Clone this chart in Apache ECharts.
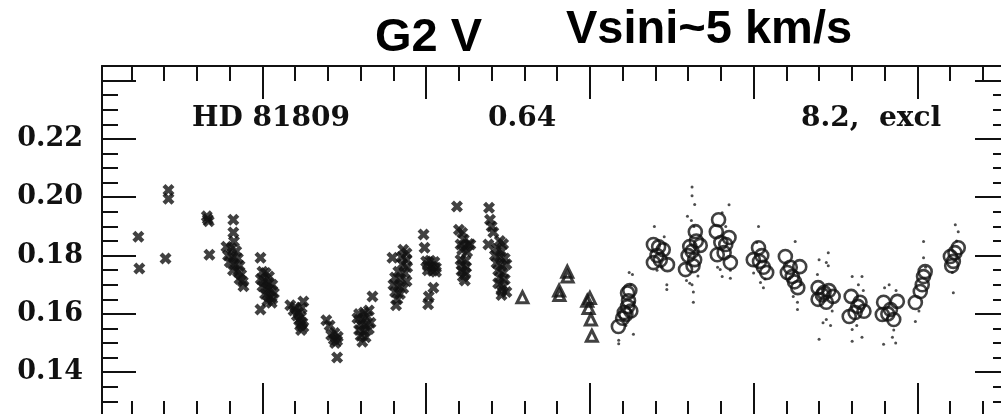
<!DOCTYPE html>
<html>
<head>
<meta charset="utf-8">
<script src="https://cdn.jsdelivr.net/npm/echarts@6/dist/echarts.min.js"></script>
<style>
  html, body { margin: 0; padding: 0; background: #fff; }
  #chart { width: 1001px; height: 414px; }
</style>
</head>
<body>
<div id="chart"></div>
<script>
// HD 81809 chromospheric S-index record, Mount Wilson HK survey
const starName = 'HD 81809';
const colourIndex = '0.64';
const cycleNote = '8.2,  excl';
const spectralType = 'G2 V';
const rotationNote = 'Vsini~5 km/s';

// Axis ranges and tick positions
const yearRange = [1965.1, 1992.8];
const sRange = [0.125, 0.245];
const yearMajorTicks = [1970, 1975, 1980, 1985, 1990];
const yearMinorTicks = [1966, 1967, 1968, 1969, 1970, 1971, 1972, 1973, 1974, 1975, 1976, 1977, 1978, 1979,
  1980, 1981, 1982, 1983, 1984, 1985, 1986, 1987, 1988, 1989, 1990, 1991, 1992];
const sMajorTicks = [0.14, 0.16, 0.18, 0.20, 0.22, 0.24];
const sMinorTicks = [0.125, 0.13, 0.135, 0.14, 0.145, 0.15, 0.155, 0.16, 0.165, 0.17, 0.175, 0.18, 0.185,
  0.19, 0.195, 0.20, 0.205, 0.21, 0.215, 0.22, 0.225, 0.23, 0.235, 0.24, 0.245];
const sTickLabels = [0.14, 0.16, 0.18, 0.20, 0.22];

// Early photometer observations (1966-1977), plotted as crosses
const crossObs = [
  [1966.21, 0.1865], [1966.24, 0.1756],
  [1967.13, 0.2025], [1967.13, 0.1995], [1967.04, 0.1790],
  [1968.30, 0.1935], [1968.33, 0.1925], [1968.36, 0.1918], [1968.38, 0.1803],
  [1969.11, 0.1923], [1969.11, 0.1879], [1969.13, 0.1848], [1968.90, 0.1830], [1969.05, 0.1825],
  [1969.20, 0.1815], [1968.95, 0.1800], [1969.10, 0.1795], [1969.25, 0.1790], [1969.00, 0.1778],
  [1969.15, 0.1770], [1969.30, 0.1765], [1969.10, 0.1750], [1969.25, 0.1745], [1969.35, 0.1735],
  [1969.30, 0.1720], [1969.40, 0.1710], [1969.42, 0.1695],
  [1969.94, 0.1793], [1970.00, 0.1745], [1970.10, 0.1740], [1970.20, 0.1728], [1969.95, 0.1720],
  [1970.05, 0.1712], [1970.18, 0.1705], [1970.30, 0.1700], [1970.00, 0.1695], [1970.12, 0.1688],
  [1970.25, 0.1680], [1970.35, 0.1672], [1970.08, 0.1668], [1970.20, 0.1660], [1970.30, 0.1652],
  [1970.15, 0.1645], [1970.28, 0.1638], [1969.94, 0.1615],
  [1970.85, 0.1630], [1971.00, 0.1622], [1971.25, 0.1643], [1970.95, 0.1612], [1971.10, 0.1605],
  [1971.20, 0.1620], [1971.05, 0.1595], [1971.18, 0.1590], [1971.12, 0.1578], [1971.22, 0.1570],
  [1971.15, 0.1560], [1971.25, 0.1555], [1971.18, 0.1545],
  [1971.95, 0.1578], [1972.05, 0.1560], [1972.20, 0.1535], [1972.10, 0.1528], [1972.30, 0.1522],
  [1972.18, 0.1512], [1972.28, 0.1508], [1972.22, 0.1500], [1972.28, 0.1451],
  [1973.36, 0.1660], [1972.95, 0.1600], [1973.10, 0.1605], [1973.25, 0.1612], [1972.90, 0.1585],
  [1973.05, 0.1580], [1973.20, 0.1590], [1973.00, 0.1565], [1973.15, 0.1560], [1973.30, 0.1570],
  [1972.95, 0.1545], [1973.10, 0.1540], [1973.25, 0.1548], [1973.00, 0.1525], [1973.15, 0.1520],
  [1973.05, 0.1505],
  [1973.97, 0.1793], [1974.30, 0.1820], [1974.40, 0.1808], [1974.25, 0.1795], [1974.40, 0.1785],
  [1974.28, 0.1770], [1974.42, 0.1760], [1974.15, 0.1745], [1974.35, 0.1740], [1974.05, 0.1725],
  [1974.22, 0.1720], [1974.40, 0.1712], [1974.00, 0.1700], [1974.15, 0.1695], [1974.30, 0.1688],
  [1974.05, 0.1675], [1974.20, 0.1668], [1974.12, 0.1650], [1974.08, 0.1630],
  [1974.92, 0.1872], [1974.95, 0.1827], [1975.00, 0.1780], [1975.12, 0.1782], [1975.25, 0.1778],
  [1975.05, 0.1765], [1975.18, 0.1762], [1975.30, 0.1758], [1975.05, 0.1750], [1975.20, 0.1748],
  [1975.30, 0.1745], [1975.22, 0.1690], [1975.08, 0.1660], [1975.06, 0.1633],
  [1975.94, 0.1968], [1976.00, 0.1889], [1976.10, 0.1878], [1976.15, 0.1855], [1976.30, 0.1840],
  [1976.05, 0.1838], [1976.20, 0.1830], [1976.35, 0.1838], [1976.10, 0.1820], [1976.25, 0.1812],
  [1976.05, 0.1785], [1976.20, 0.1782], [1976.10, 0.1768], [1976.22, 0.1760], [1976.08, 0.1748],
  [1976.20, 0.1740], [1976.12, 0.1728], [1976.18, 0.1715],
  [1976.92, 0.1964], [1976.95, 0.1923], [1977.00, 0.1900], [1977.05, 0.1880], [1976.90, 0.1838],
  [1977.25, 0.1850], [1977.35, 0.1840], [1977.15, 0.1825], [1977.30, 0.1815], [1977.10, 0.1800],
  [1977.25, 0.1795], [1977.40, 0.1790], [1977.15, 0.1775], [1977.30, 0.1765], [1977.45, 0.1770],
  [1977.20, 0.1750], [1977.35, 0.1740], [1977.25, 0.1725], [1977.40, 0.1718], [1977.20, 0.1705],
  [1977.35, 0.1695], [1977.30, 0.1680], [1977.45, 0.1675], [1977.30, 0.1665]
];

// Transition-period observations (1977-1980), plotted as triangles
const triangleObs = [
  [1977.94, 0.1657], [1979.06, 0.1680], [1979.07, 0.1665], [1979.31, 0.1745], [1979.32, 0.1728],
  [1980.00, 0.1655], [1979.92, 0.1645], [1979.96, 0.1620], [1980.03, 0.1581], [1980.06, 0.1525]
];

// HKP-2 monthly means (1980 onward), plotted as open circles
const circleObs = [
  [1980.87, 0.1557], [1981.00, 0.1585], [1981.05, 0.1605], [1981.15, 0.1625], [1981.25, 0.1610],
  [1981.18, 0.1645], [1981.15, 0.1672], [1981.22, 0.1680], [1981.10, 0.1598],
  [1981.94, 0.1838], [1982.10, 0.1830], [1982.24, 0.1820], [1982.05, 0.1800], [1981.94, 0.1776],
  [1982.37, 0.1769], [1982.15, 0.1785],
  [1982.92, 0.1752], [1983.00, 0.1800], [1983.05, 0.1831], [1983.22, 0.1882], [1983.37, 0.1835],
  [1983.20, 0.1786], [1983.12, 0.1815], [1983.25, 0.1850], [1983.15, 0.1765],
  [1983.93, 0.1923], [1983.86, 0.1882], [1984.25, 0.1862], [1984.15, 0.1838], [1983.89, 0.1803],
  [1984.29, 0.1776], [1984.00, 0.1845], [1984.10, 0.1810],
  [1985.15, 0.1827], [1984.99, 0.1786], [1985.18, 0.1780], [1985.40, 0.1742], [1985.30, 0.1760],
  [1985.25, 0.1800],
  [1985.97, 0.1797], [1986.41, 0.1762], [1986.03, 0.1742], [1986.18, 0.1728], [1986.35, 0.1690],
  [1986.25, 0.1710], [1986.12, 0.1760],
  [1986.97, 0.1690], [1987.15, 0.1673], [1987.43, 0.1660], [1986.97, 0.1650], [1987.22, 0.1640],
  [1987.10, 0.1665], [1987.30, 0.1680],
  [1987.98, 0.1660], [1987.92, 0.1591], [1988.37, 0.1609], [1988.18, 0.1626], [1988.10, 0.1605],
  [1988.25, 0.1640],
  [1988.93, 0.1598], [1989.39, 0.1643], [1989.18, 0.1615], [1989.28, 0.1581], [1988.97, 0.1640],
  [1989.10, 0.1600],
  [1989.94, 0.1639], [1990.09, 0.1677], [1990.19, 0.1728], [1990.24, 0.1745], [1990.15, 0.1700],
  [1991.01, 0.1797], [1991.25, 0.1827], [1991.10, 0.1780], [1991.15, 0.1810], [1991.05, 0.1765]
];

// Individual nightly measurements, plotted as small dots
const nightlyObs = [
  [1980.88, 0.1510], [1980.88, 0.1498], [1981.33, 0.1530], [1981.20, 0.1742], [1981.30, 0.1735],
  [1981.10, 0.1560], [1981.25, 0.1700], [1981.05, 0.1580], [1981.35, 0.1640],
  [1981.97, 0.1900], [1982.27, 0.1865], [1982.35, 0.1684], [1982.35, 0.1700], [1982.05, 0.1750],
  [1982.20, 0.1760], [1982.30, 0.1840], [1981.90, 0.1815],
  [1983.12, 0.2035], [1983.12, 0.2005], [1983.20, 0.1975], [1982.98, 0.1935], [1983.10, 0.1920],
  [1983.18, 0.1900], [1983.12, 0.1700], [1983.16, 0.1675], [1983.16, 0.1640], [1982.95, 0.1715],
  [1983.05, 0.1705], [1983.30, 0.1730],
  [1984.25, 0.1974], [1984.04, 0.1947], [1983.98, 0.1752], [1984.04, 0.1728], [1984.29, 0.1750],
  [1984.29, 0.1722], [1984.15, 0.1900], [1983.90, 0.1760],
  [1985.15, 0.1900], [1985.21, 0.1708], [1985.30, 0.1690], [1985.00, 0.1740], [1985.35, 0.1720],
  [1985.10, 0.1845],
  [1986.27, 0.1848], [1986.34, 0.1615], [1986.21, 0.1660], [1986.34, 0.1640], [1986.00, 0.1770],
  [1986.45, 0.1700], [1986.10, 0.1720],
  [1987.00, 0.1786], [1987.22, 0.1776], [1987.28, 0.1765], [1987.28, 0.1810], [1987.00, 0.1513],
  [1987.12, 0.1570], [1987.22, 0.1581], [1987.35, 0.1560], [1986.95, 0.1735], [1987.40, 0.1610],
  [1988.01, 0.1728], [1988.31, 0.1728], [1988.01, 0.1506], [1988.31, 0.1520], [1988.01, 0.1547],
  [1988.20, 0.1700], [1988.35, 0.1680], [1988.15, 0.1560],
  [1989.14, 0.1700], [1988.97, 0.1496], [1989.24, 0.1520], [1989.34, 0.1500], [1989.35, 0.1680],
  [1989.00, 0.1690], [1989.28, 0.1545],
  [1990.19, 0.1848], [1989.94, 0.1574], [1990.19, 0.1793], [1990.05, 0.1610], [1990.25, 0.1760],
  [1991.16, 0.1906], [1991.25, 0.1882], [1991.07, 0.1742], [1991.10, 0.1673], [1991.20, 0.1850]
];

const ink = '#111';
const serif = '"DejaVu Serif", "Liberation Serif", serif';
const sans = '"Liberation Sans", Arial, sans-serif';
const crossPath = 'path://M0,2.5L2.5,0L5,2.5L7.5,0L10,2.5L7.5,5L10,7.5L7.5,10L5,7.5L2.5,10L0,7.5L2.5,5Z';

function xAxisDef(position, ticks, len, showLine) {
  return {
    type: 'value', position: position, min: yearRange[0], max: yearRange[1],
    axisLine: { show: showLine, lineStyle: { color: ink, width: 2 } },
    axisTick: { show: true, inside: true, length: len, customValues: ticks,
      lineStyle: { color: ink, width: 2 } },
    axisLabel: { show: false },
    splitLine: { show: false }
  };
}
function yAxisDef(position, ticks, len, showLine, labels) {
  return {
    type: 'value', position: position, min: sRange[0], max: sRange[1],
    axisLine: { show: showLine, lineStyle: { color: ink, width: 2 } },
    axisTick: { show: true, inside: true, length: len, customValues: ticks,
      lineStyle: { color: ink, width: 2 } },
    axisLabel: labels ? {
      show: true, customValues: labels, margin: 19,
      formatter: function (v) { return v.toFixed(2); },
      color: ink, fontFamily: serif, fontSize: 27, fontWeight: 'bold'
    } : { show: false },
    splitLine: { show: false }
  };
}

const chart = echarts.init(document.getElementById('chart'), null, { renderer: 'canvas' });
chart.setOption({
  backgroundColor: '#fff',
  animation: false,
  grid: { left: 102, top: 66, right: -8, bottom: -2, outerBoundsMode: 'none', containLabel: false },
  xAxis: [
    xAxisDef('bottom', yearMinorTicks, 15, true),
    xAxisDef('bottom', yearMajorTicks, 33, false),
    xAxisDef('top', yearMinorTicks, 15, true),
    xAxisDef('top', yearMajorTicks, 33, false)
  ],
  yAxis: [
    yAxisDef('left', sMinorTicks, 16, true, null),
    yAxisDef('left', sMajorTicks, 34, false, sTickLabels),
    yAxisDef('right', sMinorTicks, 16, true, null),
    yAxisDef('right', sMajorTicks, 34, false, null)
  ],
  graphic: [
    { type: 'text', left: 375, top: 15, style: { text: spectralType, fill: '#000',
      font: 'bold 47px ' + sans } },
    { type: 'text', left: 566, top: 7, style: { text: rotationNote, fill: '#000',
      font: 'bold 47px ' + sans } },
    { type: 'text', left: 192, top: 105, style: { text: starName, fill: ink,
      font: 'bold 28px ' + serif } },
    { type: 'text', left: 488, top: 105, style: { text: colourIndex, fill: ink,
      font: 'bold 28px ' + serif } },
    { type: 'text', left: 801, top: 105, style: { text: cycleNote, fill: ink,
      font: 'bold 28px ' + serif } }
  ],
  series: [
    {
      type: 'scatter', name: 'nightly', xAxisIndex: 0, yAxisIndex: 0, data: nightlyObs,
      symbol: 'circle', symbolSize: 3, itemStyle: { color: '#222' }, silent: true
    },
    {
      type: 'scatter', name: 'crosses', xAxisIndex: 0, yAxisIndex: 0, data: crossObs,
      symbol: crossPath, symbolSize: 12, itemStyle: { color: ink }, silent: true
    },
    {
      type: 'scatter', name: 'triangles', xAxisIndex: 0, yAxisIndex: 0, data: triangleObs,
      symbol: 'triangle', symbolSize: 11,
      itemStyle: { color: 'rgba(0,0,0,0)', borderColor: ink, borderWidth: 3 }, silent: true
    },
    {
      type: 'scatter', name: 'circles', xAxisIndex: 0, yAxisIndex: 0, data: circleObs,
      symbol: 'circle', symbolSize: 13,
      itemStyle: { color: 'rgba(0,0,0,0)', borderColor: ink, borderWidth: 2.6 }, silent: true
    }
  ]
});
</script>
</body>
</html>
